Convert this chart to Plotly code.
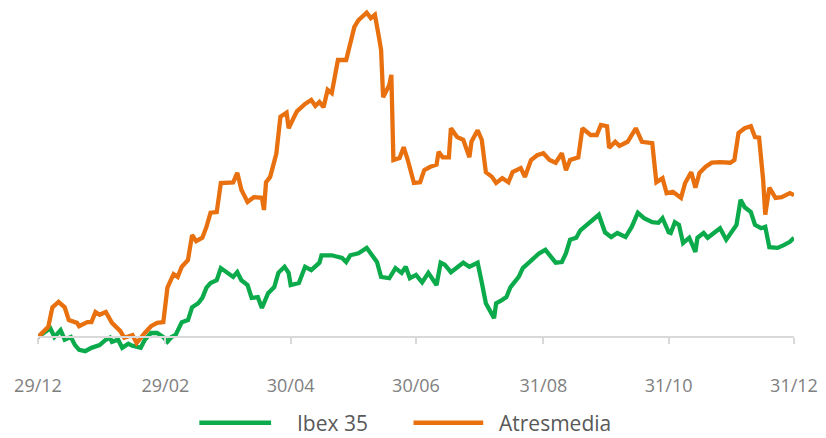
import pandas as pd
import plotly.graph_objects as go

START = "2023-12-29"
tick_dates = ["2023-12-29", "2024-02-29", "2024-04-30", "2024-06-30", "2024-08-31", "2024-10-31", "2024-12-31"]
tick_labels = ["29/12", "29/02", "30/04", "30/06", "31/08", "31/10", "31/12"]

# Ibex 35: days since 29/12/2023, % change
ibex_days = [0, 6, 8, 11, 13, 16, 18, 20, 23, 26, 30, 33, 35, 36, 39, 41, 44, 46, 50, 52, 55, 58, 61, 63, 65, 67,
             70, 73, 75, 78, 80, 82, 84, 87, 89, 92, 95, 97, 99, 102, 104, 107, 109, 112, 115, 117, 120, 122, 123,
             127, 130, 133, 137, 138, 143, 148, 150, 152, 156, 160, 162, 165, 167, 171, 174, 177, 179, 181, 184,
             187, 190, 194, 196, 198, 201, 204, 207, 210, 214, 216, 218, 222, 223, 226, 228, 230, 234, 236, 240,
             242, 244, 247, 249, 252, 255, 257, 259, 262, 264, 266, 269, 273, 276, 279, 282, 286, 289, 292, 295,
             299, 302, 304, 307, 308, 310, 312, 314, 317, 320, 321, 324, 326, 329, 332, 335, 337, 340, 342, 344,
             347, 349, 352, 354, 356, 360, 363, 366, 368]
ibex_pct = [0.0, 1.3, 0.0, 1.0, -0.4, 0.0, -1.2, -1.9, -2.1, -1.6, -1.2, -0.4, -0.1, -0.7, -0.4, -1.6, -1.0, -1.3,
            -1.6, -0.4, 0.6, 0.6, 0.0, -0.7, 0.0, 0.3, 2.2, 2.5, 4.4, 5.0, 5.8, 7.3, 8.0, 8.4, 10.2, 9.5, 8.9, 9.6,
            8.4, 7.7, 5.8, 5.9, 4.3, 6.5, 7.4, 9.5, 10.4, 9.5, 7.7, 8.0, 10.4, 9.9, 11.0, 12.1, 12.1, 11.7, 11.1,
            12.1, 12.4, 13.2, 12.4, 11.1, 8.9, 8.7, 10.2, 9.5, 10.4, 8.7, 9.2, 8.1, 9.5, 7.7, 11.0, 10.7, 9.6, 10.4,
            11.0, 10.4, 11.0, 8.1, 5.0, 2.8, 5.0, 5.5, 5.9, 7.4, 8.9, 10.2, 11.4, 11.8, 12.4, 12.9, 12.1, 11.0,
            11.1, 12.4, 14.4, 14.7, 15.8, 16.3, 16.9, 18.1, 15.5, 14.8, 15.4, 14.8, 16.3, 18.4, 17.6, 17.0, 16.9,
            17.6, 15.5, 15.4, 17.0, 16.6, 13.9, 14.7, 12.6, 14.7, 15.4, 14.7, 15.4, 16.1, 14.4, 15.4, 16.6, 20.3,
            19.2, 18.5, 16.6, 16.1, 16.3, 13.3, 13.2, 13.6, 14.1, 14.7]

# Atresmedia: days since 29/12/2023, % change
atres_days = [0, 5, 7, 10, 13, 15, 19, 20, 24, 26, 28, 30, 33, 34, 36, 40, 42, 46, 48, 52, 55, 58, 61, 63, 64, 66,
              68, 70, 73, 75, 77, 80, 82, 84, 87, 89, 95, 97, 99, 102, 105, 109, 110, 111, 113, 116, 118, 121, 122,
              126, 130, 133, 135, 137, 139, 141, 143, 146, 150, 154, 156, 160, 162, 164, 166, 167, 168, 171, 172,
              173, 176, 178, 180, 183, 186, 188, 191, 194, 195, 197, 200, 201, 204, 207, 210, 211, 214, 216, 218,
              221, 223, 226, 229, 231, 235, 237, 240, 243, 246, 249, 252, 255, 257, 259, 263, 265, 269, 272, 274,
              277, 278, 281, 283, 287, 291, 294, 299, 301, 304, 306, 309, 313, 315, 318, 320, 322, 325, 328, 332,
              337, 339, 341, 344, 347, 349, 351, 353, 354, 356, 359, 362, 366, 368]
atres_pct = [0.0, 1.5, 4.4, 5.2, 4.4, 2.5, 2.1, 1.6, 2.2, 2.2, 3.7, 3.3, 3.7, 3.1, 2.1, 0.9, -0.1, 0.3, -0.9, 0.6,
             1.6, 2.1, 2.2, 7.3, 8.1, 9.3, 8.9, 10.4, 11.4, 15.1, 14.2, 14.7, 16.3, 18.4, 18.5, 22.8, 22.9, 24.3,
             21.8, 20.0, 20.7, 20.6, 18.8, 22.9, 23.7, 27.1, 32.6, 33.2, 30.9, 33.4, 34.5, 35.1, 34.2, 34.8, 34.0,
             36.6, 36.1, 41.0, 41.0, 45.9, 46.9, 48.0, 47.2, 47.7, 44.3, 42.5, 35.5, 37.3, 38.8, 26.2, 26.5, 28.1,
             26.2, 22.8, 22.9, 24.7, 25.2, 25.5, 27.4, 26.6, 26.6, 30.9, 29.6, 29.2, 26.6, 28.9, 30.6, 29.2, 24.4,
             23.7, 22.8, 23.5, 22.9, 24.4, 25.0, 23.7, 26.2, 26.9, 27.2, 26.2, 25.8, 27.2, 24.7, 26.2, 26.6, 30.9,
             29.9, 29.9, 31.4, 31.2, 28.0, 28.9, 28.3, 28.9, 30.9, 28.9, 28.7, 22.9, 23.5, 21.3, 21.5, 20.6, 22.8,
             24.4, 22.1, 24.3, 25.2, 25.8, 25.9, 25.8, 26.2, 30.2, 30.9, 31.2, 29.6, 29.5, 23.2, 18.1, 22.1, 20.6,
             20.7, 21.3, 21.0]

series_names = ["Ibex 35", "Atresmedia"]
series_colors = ["#0BAA4B", "#E8700E"]

start = pd.Timestamp(START)
ibex_x = [start + pd.Timedelta(days=d) for d in ibex_days]
atres_x = [start + pd.Timedelta(days=d) for d in atres_days]

Y_MIN, Y_MAX = -3.4, 48.7

fig = go.Figure()
fig.add_trace(go.Scatter(x=ibex_x, y=ibex_pct, mode="lines", name=series_names[0],
                         line=dict(color=series_colors[0], width=4.3), showlegend=False))
fig.add_trace(go.Scatter(x=atres_x, y=atres_pct, mode="lines", name=series_names[1],
                         line=dict(color=series_colors[1], width=4.3), showlegend=False))

axis_pos = (0 - Y_MIN) / (Y_MAX - Y_MIN)

fig.update_layout(
    width=826, height=438,
    margin=dict(l=38, r=28, t=8, b=78),
    paper_bgcolor="white", plot_bgcolor="white",
    font=dict(family="Open Sans", color="#808080"),
    xaxis=dict(
        type="date",
        range=[tick_dates[0], tick_dates[-1]],
        tickvals=tick_dates, ticktext=tick_labels,
        anchor="free", position=axis_pos,
        showline=True, linecolor="#D9D9D9", linewidth=2,
        ticks="outside", ticklen=6, tickcolor="#D9D9D9", tickwidth=2,
        ticklabelstandoff=26,
        tickfont=dict(size=18, color="#808080"),
        showgrid=False, zeroline=False,
    ),
    yaxis=dict(range=[Y_MIN, Y_MAX], visible=False, showgrid=False, zeroline=False),
)

# legend drawn beneath the chart
leg_y = -0.178
legend_items = [(0.2134, 0.3083, 0.3412), (0.4967, 0.5889, 0.6087)]
for (x0, x1, xt), name, col in zip(legend_items, series_names, series_colors):
    fig.add_shape(type="line", xref="paper", yref="paper", x0=x0, x1=x1, y0=leg_y, y1=leg_y,
                  line=dict(color=col, width=4.5))
    fig.add_annotation(xref="paper", yref="paper", x=xt, y=leg_y, text=name, showarrow=False,
                       xanchor="left", yanchor="middle", borderpad=0,
                       font=dict(family="Open Sans", size=21, color="#595959"))

fig.write_html("out.html", config={"displayModeBar": False},
               post_script="document.body.style.margin='0';document.body.style.overflow='hidden';")
